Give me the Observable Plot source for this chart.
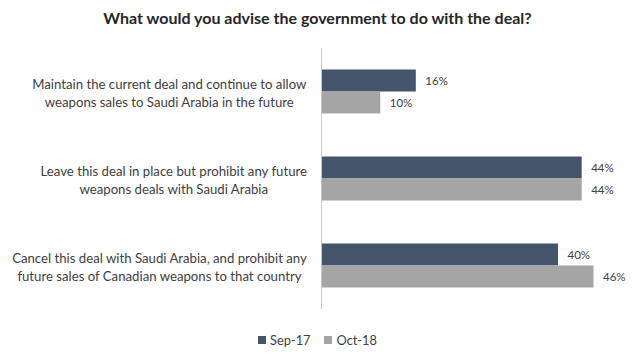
<!DOCTYPE html>
<html>
<head>
<meta charset="utf-8">
<script src="https://cdn.jsdelivr.net/npm/d3@7"></script>
<script src="https://cdn.jsdelivr.net/npm/@observablehq/plot@0.6"></script>
<style>
  html, body { margin: 0; padding: 0; background: #ffffff; }
  #wrap { width: 635px; height: 357px; position: relative; font-family: Lato, "Open Sans", sans-serif; }
  #title { height: 40px; box-sizing: border-box; padding-top: 8px; text-align: center; font-weight: bold; font-size: 16px; color: #262626; }
  #chart svg { display: block; }
  #legend { display: flex; justify-content: center; gap: 14px; padding-top: 12px; font-size: 12.8px; color: #404040; }
  #legend .item { display: flex; align-items: center; gap: 4px; }
  #legend .sw { width: 8px; height: 8px; display: inline-block; }
</style>
</head>
<body>
<div id="wrap">
  <div id="title">What would you advise the government to do with the deal?</div>
  <div id="chart"></div>
  <div id="legend"></div>
</div>
<script>
const categories = [
  "Maintain the current deal and continue to allow\nweapons sales to Saudi Arabia in the future",
  "Leave this deal in place but prohibit any future\nweapons deals with Saudi Arabia",
  "Cancel this deal with Saudi Arabia, and prohibit any\nfuture sales of Canadian weapons to that country"
];
const series = ["Sep-17", "Oct-18"];
const sep17 = [16, 44, 40];
const oct18 = [10, 44, 46];
const colors = ["#44546a", "#a5a5a5"];

const data = categories.flatMap((c, i) => [
  {category: c, series: series[0], value: sep17[i]},
  {category: c, series: series[1], value: oct18[i]}
]);

const chart = Plot.plot({
  width: 635,
  height: 280,
  marginLeft: 321,
  marginRight: 0,
  marginTop: 7.5,
  marginBottom: 11.5,
  style: {fontFamily: "Lato, 'Open Sans', sans-serif", color: "#404040", background: "transparent"},
  x: {domain: [0, 53], axis: null},
  fy: {domain: categories, padding: 0, label: null},
  y: {domain: series, paddingInner: 0, paddingOuter: 0.977, axis: null},
  color: {domain: series, range: colors},
  marks: [
    Plot.barX(data, {fy: "category", y: "series", x: "value", fill: "series"}),
    Plot.text(data, {fy: "category", y: "series", x: "value", text: d => d.value + "%", dx: 9, textAnchor: "start", fontSize: 11.5, fill: "#404040"}),
    Plot.ruleX([0], {stroke: "#c8c8c8"}),
    Plot.axisFy({anchor: "left", tickSize: 0, tickPadding: 14, label: null, fontSize: 13.2, lineHeight: 1.4, textAnchor: "middle", fill: "#404040"})
  ]
});
document.getElementById("chart").appendChild(chart);

// Center each multi-line label block, with its widest line ending at the tick padding edge
const edge = 321 - 14;
const svgLeft = chart.getBoundingClientRect().left;
chart.querySelectorAll('[aria-label="fy-axis tick label"] text').forEach(t => {
  const r = t.getBoundingClientRect();
  const shift = edge - (r.right - svgLeft);
  t.setAttribute("transform", (t.getAttribute("transform") || "") + ` translate(${shift},0)`);
});

const legend = document.getElementById("legend");
series.forEach((s, i) => {
  const item = document.createElement("div");
  item.className = "item";
  const sw = document.createElement("span");
  sw.className = "sw";
  sw.style.background = colors[i];
  const t = document.createElement("span");
  t.textContent = s;
  item.appendChild(sw);
  item.appendChild(t);
  legend.appendChild(item);
});
</script>
</body>
</html>
